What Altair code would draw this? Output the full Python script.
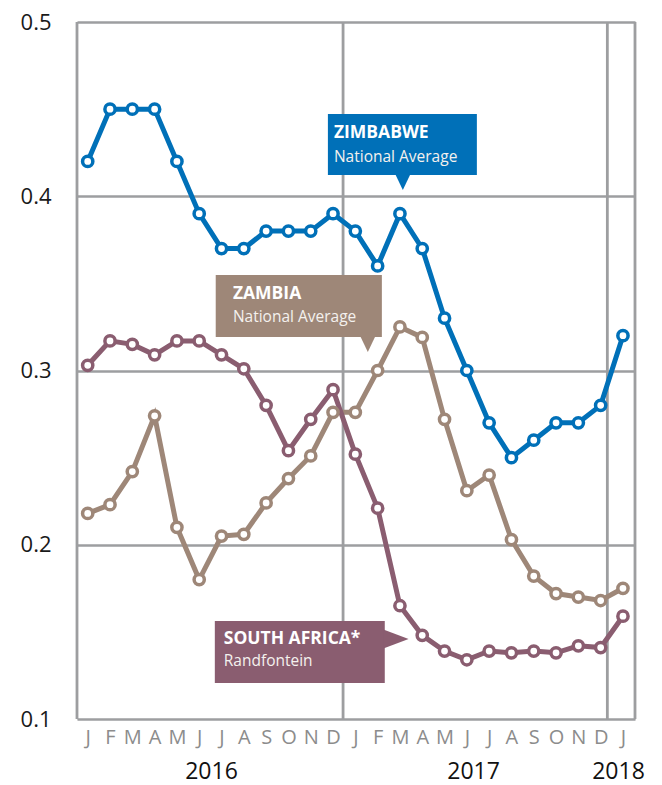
import altair as alt
import pandas as pd

# ---- data ----
month_letters = ["J", "F", "M", "A", "M", "J", "J", "A", "S", "O", "N", "D"]
years = ["2016", "2017", "2018"]
n_months = 25  # Jan 2016 .. Jan 2018

zimbabwe = [0.42, 0.45, 0.45, 0.45, 0.42, 0.39, 0.37, 0.37, 0.38, 0.38, 0.38, 0.39,
            0.38, 0.36, 0.39, 0.37, 0.33, 0.30, 0.27, 0.25, 0.26, 0.27, 0.27, 0.28, 0.32]
zambia = [0.218, 0.223, 0.242, 0.274, 0.210, 0.180, 0.205, 0.206, 0.224, 0.238, 0.251, 0.276,
          0.276, 0.300, 0.325, 0.319, 0.272, 0.231, 0.240, 0.203, 0.182, 0.172, 0.170, 0.168, 0.175]
south_africa = [0.303, 0.317, 0.315, 0.309, 0.317, 0.317, 0.309, 0.301, 0.280, 0.254, 0.272, 0.289,
                0.252, 0.221, 0.165, 0.148, 0.139, 0.134, 0.139, 0.138, 0.139, 0.138, 0.142, 0.141, 0.159]

series_names = ["Zambia", "South Africa", "Zimbabwe"]
series_colors = ["#9e8778", "#8a5d70", "#0070b8"]

rows = []
for name, vals in zip(series_names, [zambia, south_africa, zimbabwe]):
    for i, v in enumerate(vals):
        rows.append({"series": name, "i": i, "v": v})
df = pd.DataFrame(rows)

FONT = "Open Sans"
GRID = "#9d9ea0"
X_DOMAIN = [-0.48, 24.54]

xscale = alt.Scale(domain=X_DOMAIN, nice=False, zero=False)
yscale = alt.Scale(domain=[0.1, 0.5], nice=False, zero=False)
col_scale = alt.Scale(domain=series_names, range=series_colors)

letters_js = "[" + ",".join("'%s'" % m for m in month_letters) + "]"

x_axis = alt.Axis(values=list(range(n_months)), tickCount=n_months, tickMinStep=1,
                  labelExpr=letters_js + "[round(datum.value) % 12]",
                  grid=False, ticks=False, domain=False, title=None,
                  labelFont=FONT, labelFontSize=20, labelColor="#8c8c8c",
                  labelPadding=8, labelFlush=False, labelOverlap=False,
                  labelSeparation=0, labelBound=False)
y_axis = alt.Axis(values=[0.1, 0.2, 0.3, 0.4, 0.5], format=".1f",
                  grid=True, gridColor=GRID, gridWidth=2.5,
                  ticks=False, domain=False, title=None,
                  labelFont=FONT, labelFontSize=22, labelColor="#1a1a1a",
                  labelPadding=26, labelFlush=False, labelOverlap=False)

# vertical rules: frame edges and year separators (first layer carries the axes)
vrules = alt.Chart(pd.DataFrame({"i": [X_DOMAIN[0], 11.45, 23.3, X_DOMAIN[1]],
                                 "v": [0.1] * 4})).mark_rule(
    color=GRID, strokeWidth=2.8).encode(
    x=alt.X("i:Q", scale=xscale, axis=x_axis),
    y=alt.Y("v:Q", scale=yscale, axis=y_axis),
    y2=alt.Y2Datum(0.5),
)

base = alt.Chart(df)
lines = base.mark_line(strokeWidth=5).encode(
    x="i:Q", y="v:Q",
    color=alt.Color("series:N", scale=col_scale, legend=None),
    detail="series:N",
)
points = base.mark_point(shape="circle", filled=False, fill="white", fillOpacity=1,
                         strokeWidth=3.5, size=105, opacity=1).encode(
    x="i:Q", y="v:Q",
    stroke=alt.Stroke("series:N", scale=col_scale, legend=None),
)

# annotation boxes
boxes_df = pd.DataFrame({
    "i": [10.77, 5.74, 5.70], "i2": [17.45, 13.19, 13.32],
    "v": [0.4472, 0.3548, 0.1562], "v2": [0.4122, 0.3192, 0.1207],
    "series": ["Zimbabwe", "Zambia", "South Africa"],
})
boxes = alt.Chart(boxes_df).mark_rect().encode(
    x="i:Q", x2="i2:Q", y="v:Q", y2="v2:Q",
    color=alt.Color("series:N", scale=col_scale, legend=None),
)

tri_down_df = pd.DataFrame({"i": [14.13, 12.56], "v": [0.4082, 0.3152],
                            "series": ["Zimbabwe", "Zambia"]})
tri_down = alt.Chart(tri_down_df).mark_point(
    shape="M-1,-1.1L1,-1.1L0,1Z", filled=True, size=256, opacity=1).encode(
    x="i:Q", y="v:Q",
    color=alt.Color("series:N", scale=col_scale, legend=None),
)
tri_right = alt.Chart(pd.DataFrame({"i": [13.85], "v": [0.1459],
                                    "series": ["South Africa"]})).mark_point(
    shape="M-1.1,-0.8L1,0L-1.1,0.8Z", filled=True, size=576, opacity=1).encode(
    x="i:Q", y="v:Q",
    color=alt.Color("series:N", scale=col_scale, legend=None),
)

titles_df = pd.DataFrame({"i": [11.04, 6.51, 6.10], "v": [0.4336, 0.3409, 0.1429],
                          "t": ["ZIMBABWE", "ZAMBIA", "SOUTH AFRICA*"]})
subs_df = pd.DataFrame({"i": [11.04, 6.51, 6.10], "v": [0.4197, 0.3278, 0.1304],
                        "t": ["National Average", "National Average", "Randfontein"]})
titles = alt.Chart(titles_df).mark_text(
    align="left", baseline="alphabetic", font=FONT, fontSize=17.5, fontWeight="bold",
    color="white").encode(x="i:Q", y="v:Q", text="t:N")
subs = alt.Chart(subs_df).mark_text(
    align="left", baseline="alphabetic", font=FONT, fontSize=15.5,
    color="#f4f1ee").encode(x="i:Q", y="v:Q", text="t:N")

year_df = pd.DataFrame({"i": [5.55, 17.3, 23.8], "t": years})
year_text = alt.Chart(year_df).mark_text(
    align="center", baseline="middle", font=FONT, fontSize=23, color="#111111").encode(
    x="i:Q", y=alt.value(750), text="t:N")

chart = alt.layer(vrules, lines, points, boxes, tri_down, tri_right, titles, subs, year_text).properties(
    width=558, height=697,
    padding={"left": 69, "top": 14, "right": 19, "bottom": 66},
    autosize="none",
).configure_view(strokeWidth=0).configure_axis(
    labelOverlap=False).configure(background="white")

chart.save("out.html", embed_options={"renderer": "svg", "actions": False})
